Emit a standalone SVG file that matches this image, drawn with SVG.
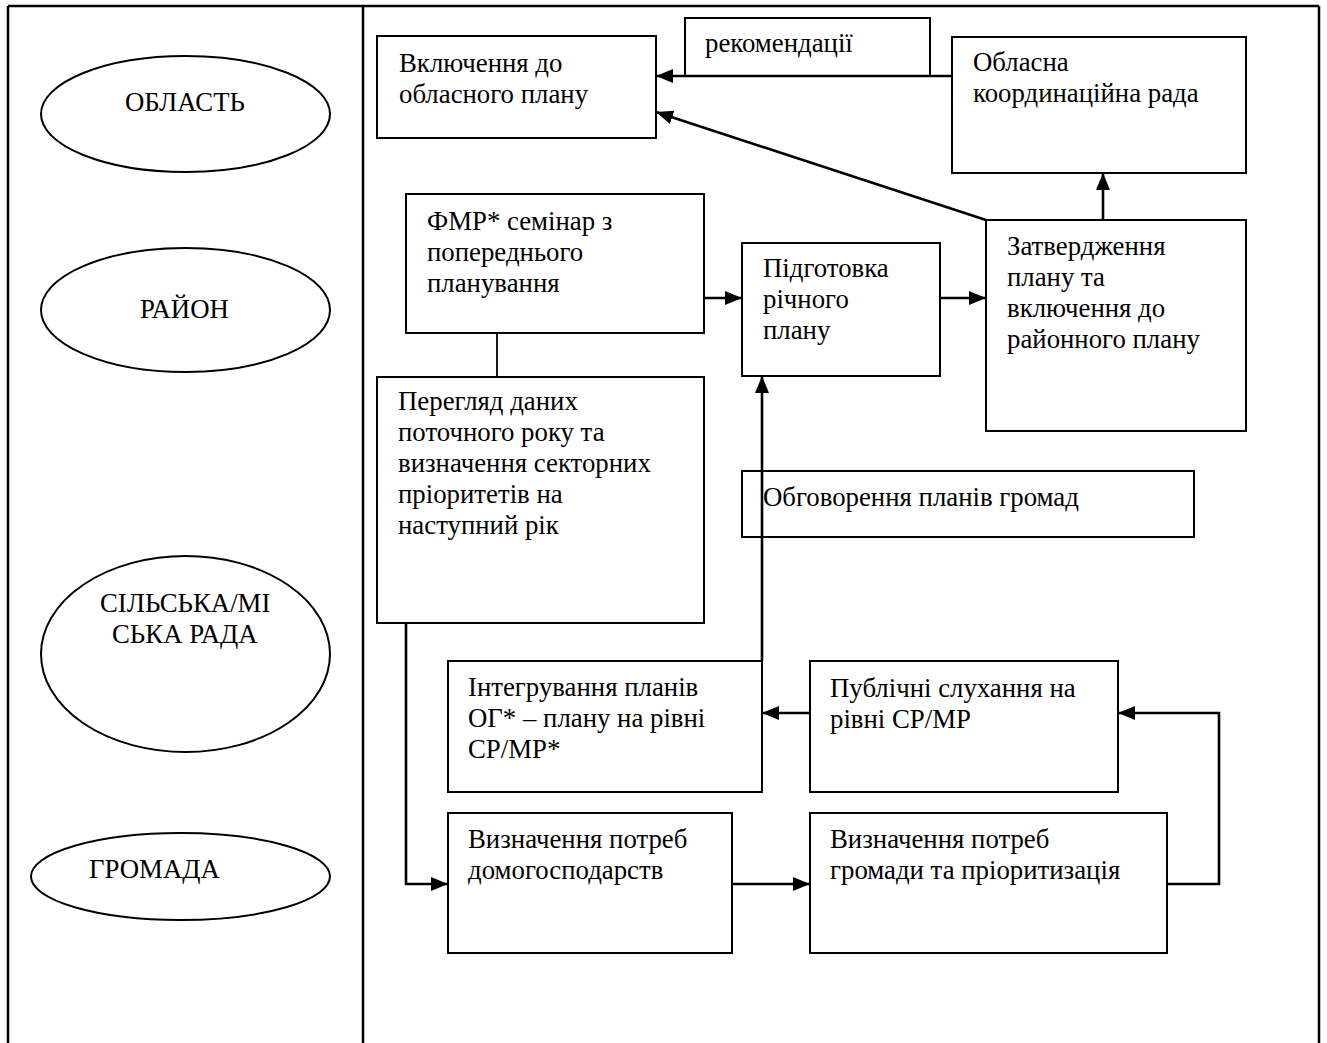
<svg xmlns="http://www.w3.org/2000/svg" width="1327" height="1043" viewBox="0 0 1327 1043">
<style>
  .box { fill: #fff; stroke: #000; stroke-width: 2; }
  .ell { fill: #fff; stroke: #000; stroke-width: 2; }
  .frame { stroke: #000; stroke-width: 2.5; fill: none; }
  .conn { stroke: #000; stroke-width: 2.6; fill: none; }
  .thin { stroke: #000; stroke-width: 1.8; fill: none; }
  text { font-family: "Liberation Serif", "Times New Roman", serif; font-size: 26.8px; fill: #000; }
</style>
<defs>
  <marker id="arr" viewBox="0 0 17 14" refX="17" refY="7" markerWidth="17" markerHeight="14" markerUnits="userSpaceOnUse" orient="auto">
    <path d="M0,0 L17,7 L0,14 z" fill="#000"/>
  </marker>
</defs>
<rect width="1327" height="1043" fill="#fff"/>
<g id="frame">
  <line class="frame" x1="8" y1="6" x2="1319" y2="6"/>
  <line class="frame" x1="8" y1="6" x2="8" y2="1043"/>
  <line class="frame" x1="363" y1="6" x2="363" y2="1043"/>
  <line class="frame" x1="1319" y1="6" x2="1319" y2="1043"/>
</g>
<g id="lvl-oblast"><ellipse class="ell" cx="185.5" cy="114" rx="144.5" ry="58"/><text x="125" y="111">ОБЛАСТЬ</text></g>
<g id="lvl-raion"><ellipse class="ell" cx="185.5" cy="310" rx="144.5" ry="62"/><text x="140" y="318">РАЙОН</text></g>
<g id="lvl-rada"><ellipse class="ell" cx="185.5" cy="654" rx="144.5" ry="98"/><text x="100" y="612">СІЛЬСЬКА/МІ</text><text x="112" y="643">СЬКА РАДА</text></g>
<g id="lvl-hromada"><ellipse class="ell" cx="180.5" cy="876.5" rx="149.5" ry="43.5"/><text x="89" y="878">ГРОМАДА</text></g>

<g id="n-vkl"><rect class="box" x="377" y="36" width="279" height="102"/><text x="399" y="72">Включення до</text><text x="399" y="103">обласного плану</text></g>
<g id="n-rek"><rect class="box" x="685" y="18" width="245" height="58"/><text x="705" y="52">рекомендації</text></g>
<g id="n-obl"><rect class="box" x="952" y="37" width="294" height="136"/><text x="973" y="71">Обласна</text><text x="973" y="102">координаційна рада</text></g>
<g id="n-fmr"><rect class="box" x="406" y="194" width="298" height="139"/><text x="427" y="230">ФМР* семінар з</text><text x="427" y="261">попереднього</text><text x="427" y="292">планування</text></g>
<g id="n-pidg"><rect class="box" x="742" y="243" width="198" height="133"/><text x="763" y="277">Підготовка</text><text x="763" y="308">річного</text><text x="763" y="339">плану</text></g>
<g id="n-zatv"><rect class="box" x="986" y="220" width="260" height="211"/><text x="1007" y="255">Затвердження</text><text x="1007" y="286">плану та</text><text x="1007" y="317">включення до</text><text x="1007" y="348">районного плану</text></g>
<g id="n-pereg"><rect class="box" x="377" y="377" width="327" height="246"/><text x="398" y="410">Перегляд даних</text><text x="398" y="441">поточного року та</text><text x="398" y="472">визначення секторних</text><text x="398" y="503">пріоритетів на</text><text x="398" y="534">наступний рік</text></g>
<g id="n-obgov"><rect class="box" x="742" y="471" width="452" height="66"/><text x="763" y="506">Обговорення планів громад</text></g>
<g id="n-integr"><rect class="box" x="448" y="661" width="314" height="131"/><text x="468" y="696">Інтегрування планів</text><text x="468" y="727">ОГ* – плану на рівні</text><text x="468" y="758">СР/МР*</text></g>
<g id="n-publ"><rect class="box" x="810" y="661" width="308" height="131"/><text x="830" y="697">Публічні слухання на</text><text x="830" y="728">рівні СР/МР</text></g>
<g id="n-domog"><rect class="box" x="448" y="813" width="284" height="140"/><text x="468" y="848">Визначення потреб</text><text x="468" y="879">домогосподарств</text></g>
<g id="n-hrom"><rect class="box" x="810" y="813" width="357" height="140"/><text x="830" y="848">Визначення потреб</text><text x="830" y="879">громади та пріоритизація</text></g>

<g id="connectors">
  <line class="conn" x1="952" y1="76" x2="656" y2="76" marker-end="url(#arr)"/>
  <line class="conn" x1="986" y1="220" x2="656" y2="112" marker-end="url(#arr)"/>
  <line class="conn" x1="1103" y1="220" x2="1103" y2="173" marker-end="url(#arr)"/>
  <line class="conn" x1="704" y1="298" x2="742" y2="298" marker-end="url(#arr)"/>
  <line class="conn" x1="940" y1="298" x2="986" y2="298" marker-end="url(#arr)"/>
  <line class="thin" x1="497" y1="333" x2="497" y2="377"/>
  <line class="conn" x1="762" y1="661" x2="762" y2="376" marker-end="url(#arr)"/>
  <line class="conn" x1="810" y1="713" x2="762" y2="713" marker-end="url(#arr)"/>
  <polyline class="conn" points="406,623 406,884 448,884" marker-end="url(#arr)"/>
  <line class="conn" x1="732" y1="884" x2="810" y2="884" marker-end="url(#arr)"/>
  <polyline class="conn" points="1167,884 1219,884 1219,713 1118,713" marker-end="url(#arr)"/>
</g>
</svg>
